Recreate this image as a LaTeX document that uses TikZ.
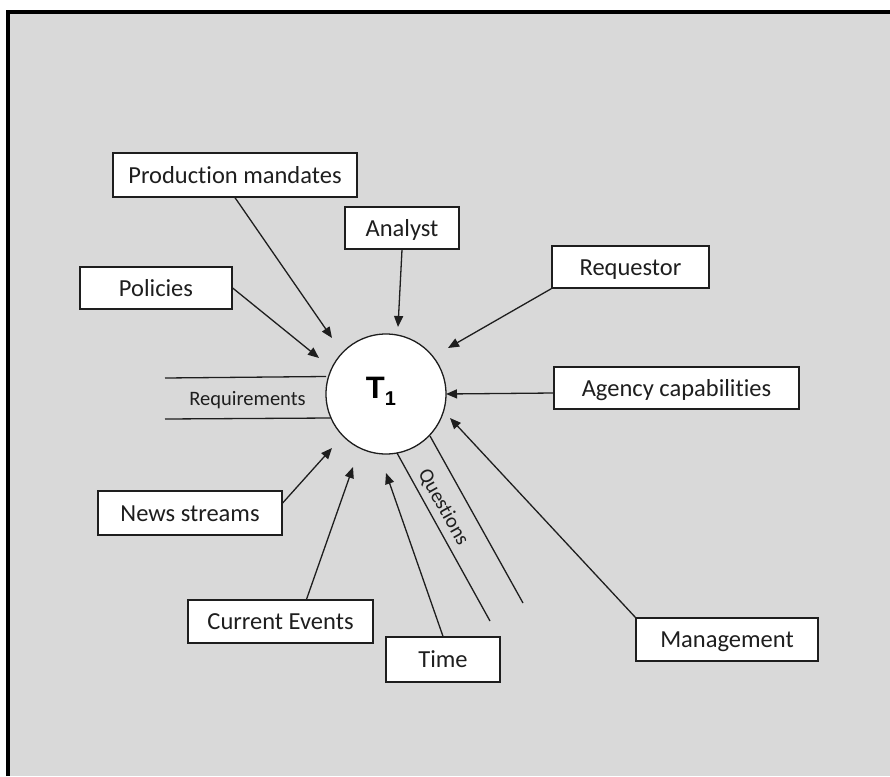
\documentclass[tikz,border=0pt]{standalone}
\usepackage{fontspec}
\setmainfont{Carlito}[Ligatures=NoCommon]
\newfontfamily\arialbold{Liberation Sans}[BoldFont={* Bold}]
\usetikzlibrary{arrows.meta}
\definecolor{bggray}{HTML}{D9D9D9}
\definecolor{ink}{HTML}{1E1E1E}
\tikzset{
  boxnode/.style={draw=ink, line width=1.3pt, fill=white, text=ink, inner sep=0pt,
    font=\fontsize{24.5}{27}\selectfont, text height=16pt, text depth=0pt, anchor=center},
  feed/.style={draw=ink, line width=1.3pt, -{Triangle[length=11pt,width=9pt]}},
  flowline/.style={draw=ink, line width=1.3pt},
  smalllabel/.style={text=ink, inner sep=0pt, font=\fontsize{20.5}{23}\selectfont, text height=13pt, text depth=0pt}
}
\begin{document}
\begin{tikzpicture}[x=1pt,y=-1pt]
\useasboundingbox (0,0) rectangle (890,776);
\fill[white] (0,0) rectangle (890,776);
\fill[bggray] (8,12) rectangle (890,776);
\draw[black, line width=4pt] (8,776) -- (8,12) -- (890,12);

% central process
\node[circle, draw=ink, line width=1.3pt, fill=white, minimum size=120pt, inner sep=0pt] (c) at (386,394) {};
\node[text=black, inner sep=0pt, anchor=center] (tlabel) at (381,391)
  {\arialbold\bfseries\fontsize{31}{33}\selectfont T\raisebox{-7pt}{\fontsize{20}{22}\selectfont 1}};

% boxes
\node[boxnode, minimum width=244pt, minimum height=44pt] (pm) at (235,175) {Production mandates};
\node[boxnode, minimum width=114pt, minimum height=42pt] (an) at (402,228) {Analyst};
\node[boxnode, minimum width=152pt, minimum height=42pt] (po) at (156,288) {Policies};
\node[boxnode, minimum width=157pt, minimum height=42pt] (rq) at (630.5,267) {Requestor};
\node[boxnode, minimum width=245pt, minimum height=42pt] (ag) at (676.5,388) {Agency capabilities};
\node[boxnode, minimum width=184pt, minimum height=44pt] (ns) at (190,513) {News streams};
\node[boxnode, minimum width=185pt, minimum height=43pt] (ce) at (280.5,621.5) {Current Events};
\node[boxnode, minimum width=114pt, minimum height=45pt] (tm) at (443,659.5) {Time};
\node[boxnode, minimum width=182pt, minimum height=43pt] (mg) at (727,639.5) {Management};

% arrow tips near the circle
\coordinate (tpm) at (332,338);
\coordinate (tan) at (398,327);
\coordinate (tpo) at (319,358);
\coordinate (trq) at (448,348);
\coordinate (tag) at (446,394);
\coordinate (tmg) at (450,418);
\coordinate (tns) at (332,448);
\coordinate (tce) at (353,467);
\coordinate (ttm) at (386,473);

\draw[feed] (pm.south) -- (tpm);
\draw[feed] (an.south) -- (tan);
\draw[feed] (po.east) -- (tpo);
\draw[feed] (rq.south west) -- (trq);
\draw[feed] ([yshift=-5pt]ag.west) -- (tag);
\draw[feed] (mg.north west) -- (tmg);
\draw[feed] ([yshift=10pt]ns.east) -- (tns);
\draw[feed] ([xshift=26pt]ce.north) -- (tce);
\draw[feed] (tm.north) -- (ttm);

% requirements flow
\coordinate (rqa) at (165,378);
\coordinate (rqb) at (165,419);
\draw[flowline] (rqa) -- (326,376.5);
\draw[flowline] (rqb) -- (330.5,418);
\node[smalllabel] (reqlabel) at (247.5,399) {Requirements};

% questions flow
\coordinate (qa) at (490,621);
\coordinate (qb) at (523,603);
\draw[flowline] (397,453) -- (qa);
\draw[flowline] (430,436) -- (qb);
\node[smalllabel, rotate=-60.8] (qlabel) at (444,507) {Questions};
\end{tikzpicture}
\end{document}
